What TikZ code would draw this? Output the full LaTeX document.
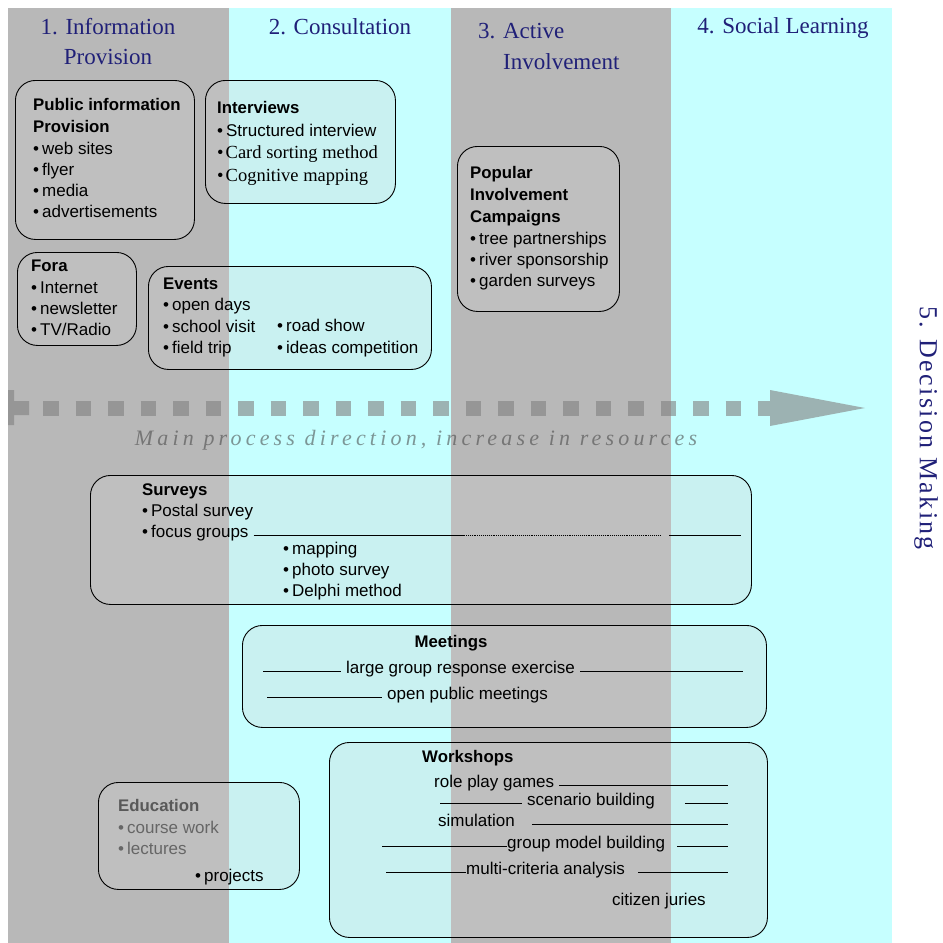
\documentclass[tikz,border=0pt]{standalone}
\usepackage{fontspec}
\setmainfont{Liberation Serif}
\setsansfont{Liberation Sans}
\definecolor{stripgray}{RGB}{184,184,184}
\definecolor{stripcyan}{RGB}{198,255,255}
\definecolor{headblue}{RGB}{32,32,120}
\newcommand{\itembul}{\textbullet\hspace{3pt}}
\tikzset{
  panel/.style={draw,line width=0.9pt,rounded corners=20pt,fill=gray!35,fill opacity=0.3,
    anchor=north west,inner sep=0pt},
  phase/.style={font=\fontsize{23}{30}\selectfont,text=headblue,inner sep=0pt},
  heading/.style={font=\sffamily\bfseries\fontsize{16.8}{21}\selectfont,anchor=mid west,inner sep=0pt},
  entry/.style={font=\sffamily\fontsize{17}{21}\selectfont,anchor=mid west,inner sep=0pt},
  wtext/.style={entry,inner xsep=5pt},
  joint/.style={line width=0.9pt},
  flowpart/.style={fill=black!50,fill opacity=0.6}
}

\begin{document}
\begin{tikzpicture}[x=1pt,y=-1pt]
  \useasboundingbox (0,0) rectangle (943,943);
  \fill[white] (0,0) rectangle (943,943);
  % phase strips
  \fill[stripgray] (8,8) rectangle (229,943);
  \fill[stripcyan] (229,8) rectangle (451,943);
  \fill[stripgray] (451,8) rectangle (671,943);
  \fill[stripcyan] (671,8) rectangle (892,943);

  % phase names
  \node[phase,align=center] (ph1) at (108,42) {1. Information\\Provision};
  \node[phase] (ph2) at (340,27) {2. Consultation};
  \node[phase,align=left,anchor=north west] (ph3) at (478,23) {3. Active\\[1pt]\hspace*{25pt}Involvement};
  \node[phase] (ph4) at (783,28) {4. Social Learning};
  \node[phase,rotate=-90,font=\fontsize{26}{30}\selectfont\addfontfeature{LetterSpace=9}] (ph5) at (926,428) {5. Decision Making};

  % main direction arrow
  \coordinate (tail) at (8,408);
  \coordinate (tip) at (865,408);
  \fill[flowpart] (8,390) -- (14,390) -- (14,401) -- (29,401) -- (29,415) -- (14,415)
    -- (14,425) -- (8,425) -- cycle;
  \draw[black!50,draw opacity=0.6,line width=15pt,dash pattern=on 15.5pt off 17pt] (43,408) -- (770,408);
  \fill[flowpart] (770,390) -- (tip) -- (770,426) -- cycle;
  \node[font=\itshape\fontsize{22}{26}\selectfont\addfontfeature{LetterSpace=19},
    text=black!75,text opacity=0.55] (dir) at (416,440) {Main process direction, increase in resources};

  % public information
  \node[panel,minimum width=179pt,minimum height=159pt] (pubbox) at (15,80) {};
  \node[heading] (pub-t1) at (33,108) {Public information};
  \node[heading] (pub-t2) at (33,130) {Provision};
  \foreach \txt [count=\i] in {web sites,flyer,media,advertisements}
    \node[entry] (pub-\i) at (33,131+21*\i) {\itembul\txt};

  % interviews
  \node[panel,minimum width=190pt,minimum height=123pt] (intbox) at (205,80) {};
  \node[heading] (int-t) at (217,111) {Interviews};
  \node[entry] (int-1) at (217,134) {\itembul Structured interview};
  \node[entry,font=\rmfamily\fontsize{18.5}{21}\selectfont] (int-2) at (217,156) {\textbullet\hspace{2pt}Card sorting method};
  \node[entry,font=\rmfamily\fontsize{18.5}{21}\selectfont] (int-3) at (217,179) {\textbullet\hspace{2pt}Cognitive mapping};

  % fora
  \node[panel,minimum width=119pt,minimum height=93pt] (forbox) at (17,252) {};
  \node[heading] (for-t) at (31,269) {Fora};
  \foreach \txt [count=\i] in {Internet,newsletter,TV/Radio}
    \node[entry] (for-\i) at (31,270+21*\i) {\itembul\txt};

  % events
  \node[panel,minimum width=283pt,minimum height=103pt] (evbox) at (148,266) {};
  \node[heading] (ev-t) at (163,287) {Events};
  \foreach \txt [count=\i] in {open days,school visit,field trip}
    \node[entry] (ev-\i) at (163,287+21.5*\i) {\itembul\txt};
  \node[entry] (ev-4) at (277,329) {\itembul road show};
  \node[entry] (ev-5) at (277,351) {\itembul ideas competition};

  % campaigns
  \node[panel,minimum width=162pt,minimum height=165pt] (popbox) at (457,146) {};
  \foreach \txt [count=\i] in {Popular,Involvement,Campaigns}
    \node[heading] (pop-t\i) at (470,154+22*\i) {\txt};
  \foreach \txt [count=\i] in {tree partnerships,river sponsorship,garden surveys}
    \node[entry] (pop-\i) at (470,221+21*\i) {\itembul\txt};

  % surveys
  \node[panel,minimum width=661pt,minimum height=129pt] (srvbox) at (90,475) {};
  \node[heading] (srv-t) at (142,493) {Surveys};
  \node[entry] (srv-1) at (142,514) {\itembul Postal survey};
  \node[wtext] (srv-2) at (137,535) {\itembul focus groups};
  \foreach \txt [count=\i] in {mapping,photo survey,Delphi method}
    \node[entry] (srv-sub\i) at (283,531+21*\i) {\itembul\txt};
  \coordinate (fg-a) at (464,535);
  \coordinate (fg-b) at (660,535);
  \coordinate (fg-c) at (669,535);
  \coordinate (fg-d) at (741,535);
  \draw[joint] (srv-2.mid east) -- (fg-a);
  \draw[joint,densely dotted] (fg-a) -- (fg-b);
  \draw[joint] (fg-c) -- (fg-d);

  % meetings
  \node[panel,minimum width=524pt,minimum height=102pt] (metbox) at (242,625) {};
  \node[heading,anchor=mid] (met-t) at (451,645) {Meetings};
  \coordinate (lgr-w) at (263,671);
  \coordinate (lgr-e) at (743,671);
  \node[wtext] (lgr) at (341,671) {large group response exercise};
  \draw[joint] (lgr-w) -- (lgr.mid west) (lgr.mid east) -- (lgr-e);
  \coordinate (opm-w) at (267,697);
  \node[wtext] (opm) at (382,697) {open public meetings};
  \draw[joint] (opm-w) -- (opm.mid west);

  % workshops
  \node[panel,minimum width=438pt,minimum height=195pt] (wrkbox) at (329,742) {};
  \node[heading] (wrk-t) at (422,760) {Workshops};
  \node[wtext] (rpg) at (429,785) {role play games};
  \coordinate (rpg-e) at (728,785);
  \draw[joint] (rpg.mid east) -- (rpg-e);
  \coordinate (scb-w) at (440,803);
  \coordinate (scb-e) at (728,803);
  \node[wtext] (scb) at (522,803) {scenario building};
  \draw[joint] (scb-w) -- (scb.mid west) ([xshift=25pt]scb.mid east) -- (scb-e);
  \node[wtext] (sim) at (433,824) {simulation};
  \coordinate (sim-e) at (728,824);
  \draw[joint] ([xshift=12pt]sim.mid east) -- (sim-e);
  \coordinate (gmb-w) at (382,846);
  \coordinate (gmb-e) at (728,846);
  \node[wtext,inner xsep=0pt] (gmb) at (507,846) {group model building};
  \draw[joint] (gmb-w) -- (gmb.mid west) ([xshift=12pt]gmb.mid east) -- (gmb-e);
  \coordinate (mca-w) at (386,872);
  \coordinate (mca-e) at (728,872);
  \node[wtext,inner xsep=0pt] (mca) at (466,872) {multi-criteria analysis};
  \draw[joint] (mca-w) -- (mca.mid west) ([xshift=13pt]mca.mid east) -- (mca-e);
  \node[entry] (cjr) at (612,903) {citizen juries};

  % education
  \node[panel,minimum width=201pt,minimum height=107pt] (edubox) at (98,782) {};
  \node[heading,text=black!65] (edu-t) at (118,809) {Education};
  \foreach \txt [count=\i] in {course work,lectures}
    \node[entry,text=black!60] (edu-\i) at (118,810+21*\i) {\itembul\txt};
  \node[entry] (edu-3) at (195,879) {\itembul projects};
\end{tikzpicture}
\end{document}
